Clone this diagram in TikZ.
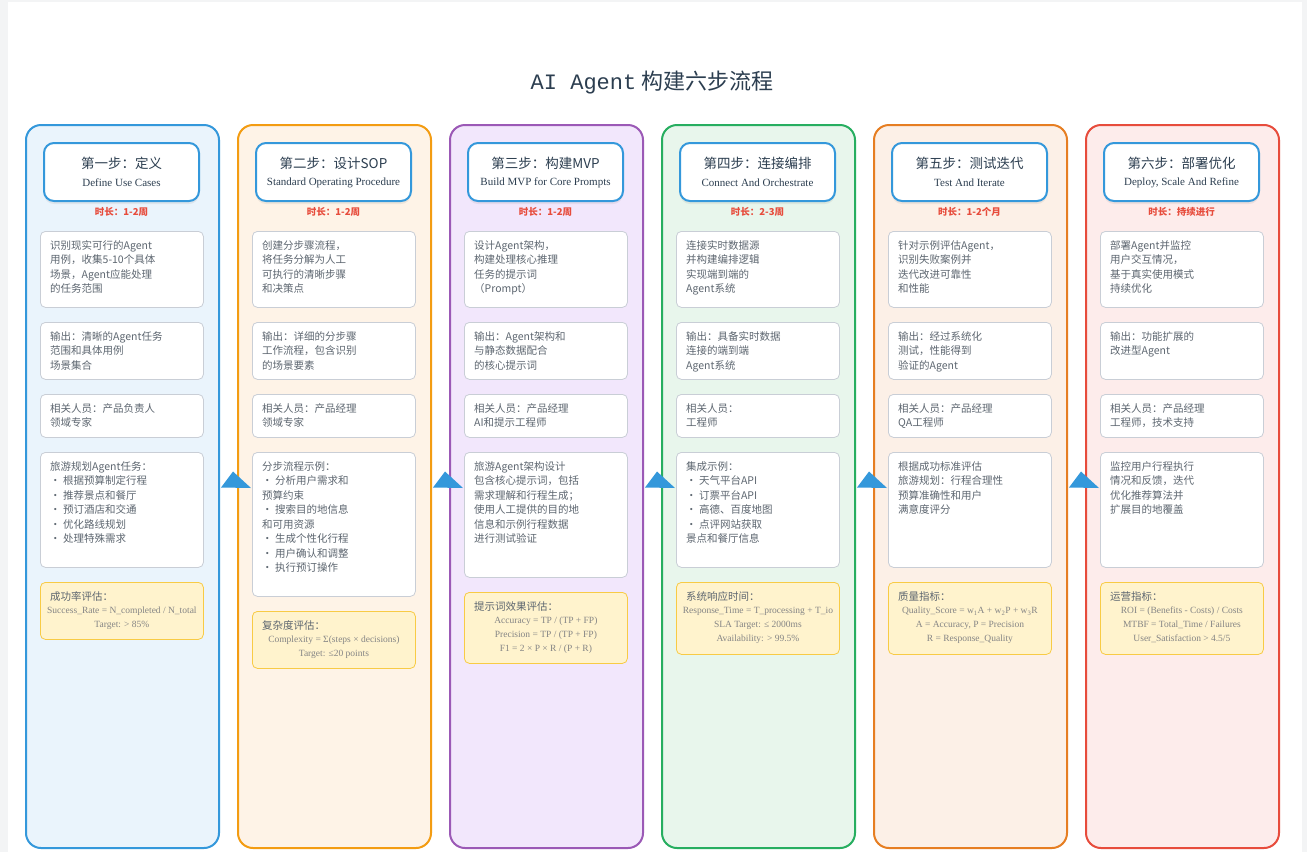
\documentclass[tikz,border=0pt]{standalone}
\usepackage{fontspec}
\setmainfont{Noto Sans CJK SC}
\newfontfamily\latinserif{Liberation Serif}
\newfontfamily\latinmono{Liberation Mono}
\usepackage{xcolor}
\usepackage{tikz}
\usetikzlibrary{calc}
\usetikzlibrary{shadows}

\definecolor{blueA}{HTML}{3498DB}
\definecolor{orangeA}{HTML}{F39C12}
\definecolor{purpleA}{HTML}{9B59B6}
\definecolor{greenA}{HTML}{27AE60}
\definecolor{orangeB}{HTML}{E67E22}
\definecolor{redA}{HTML}{E74C3C}
\definecolor{bgA}{HTML}{EAF4FC}
\definecolor{bgB}{HTML}{FEF3E7}
\definecolor{bgC}{HTML}{F2E7FC}
\definecolor{bgD}{HTML}{E8F6EC}
\definecolor{bgE}{HTML}{FCF0E7}
\definecolor{bgF}{HTML}{FDECEB}
\definecolor{ink}{HTML}{2C3E50}
\definecolor{bodytext}{HTML}{5D6670}
\definecolor{cardline}{HTML}{C9CED6}
\definecolor{yfill}{HTML}{FFF3CD}
\definecolor{yline}{HTML}{F8CB45}
\definecolor{formulatext}{HTML}{858585}
\definecolor{pagebg}{HTML}{F3F4F5}

\tikzset{
  col/.style={draw=#1, line width=2pt, rounded corners=15pt, anchor=north west,
    minimum width=193pt, minimum height=723pt, inner sep=0pt},
  head/.style={draw=blueA, line width=2pt, fill=white, rounded corners=10pt,
    minimum width=155pt, minimum height=58pt, inner sep=0pt,
    drop shadow={opacity=0.12, shadow xshift=0pt, shadow yshift=-3pt}},
  headtitle/.style={font=\fontsize{13.5}{16}\selectfont, text=ink, inner sep=0pt},
  headsub/.style={font=\latinserif\fontsize{11}{13}\selectfont, text=ink, inner sep=0pt},
  dur/.style={font=\bfseries\fontsize{9.5}{11}\selectfont, text=redA, inner sep=0pt},
  card/.style={draw=cardline, fill=white, line width=0.8pt, rounded corners=5pt,
    anchor=north west, minimum width=163pt, inner sep=0pt},
  metric/.style={draw=yline, fill=yfill},
  cardtext/.style={anchor=north west, inner sep=0pt, align=left,
    font=\fontsize{10.5}{14.5}\selectfont, text=bodytext},
  formula/.style={anchor=north, inner sep=0pt, align=center,
    font=\latinserif\fontsize{9.5}{14}\selectfont, text=formulatext},
  arrowtri/.style={fill=blueA}
}

% card with text, top-left at (x,y)
\newcommand{\infocard}[5]{%
  \node[card, minimum height=#4pt] (#1) at (#2,#3) {};
  \node[cardtext] (#1t) at ($(#1.north west)+(10,9)$) {#5};}

\begin{document}
\begin{tikzpicture}[x=1pt, y=-1pt]
\useasboundingbox (0,0) rectangle (1307,852);
\fill[pagebg] (0,0) rectangle (1307,852);
\fill[white] (8,2) rectangle (1302,852);

\node[font=\fontsize{22}{26}\selectfont, text=ink] (title) at (652,83) {{\latinmono AI Agent} 构建六步流程};

%%% colonnes

\node[col=blueA, fill=bgA] (col1) at (25,124) {};
\node[col=orangeA, fill=bgB] (col2) at (237,124) {};
\node[col=purpleA, fill=bgC] (col3) at (449,124) {};
\node[col=greenA, fill=bgD] (col4) at (661,124) {};
\node[col=orangeB, fill=bgE] (col5) at (873,124) {};
\node[col=redA, fill=bgF] (col6) at (1085,124) {};

%%% fleches

\fill[arrowtri] ($(col1.east)+(1,1)$) -- ($(col1.east)+(13,-15)$) -- ($(col1.east)+(31,1.5)$) -- cycle;
\fill[arrowtri] ($(col2.east)+(1,1)$) -- ($(col2.east)+(13,-15)$) -- ($(col2.east)+(31,1.5)$) -- cycle;
\fill[arrowtri] ($(col3.east)+(1,1)$) -- ($(col3.east)+(13,-15)$) -- ($(col3.east)+(31,1.5)$) -- cycle;
\fill[arrowtri] ($(col4.east)+(1,1)$) -- ($(col4.east)+(13,-15)$) -- ($(col4.east)+(31,1.5)$) -- cycle;
\fill[arrowtri] ($(col5.east)+(1,1)$) -- ($(col5.east)+(13,-15)$) -- ($(col5.east)+(31,1.5)$) -- cycle;

% step 1
\node[head] (h1) at (121.5,172) {};
\node[headtitle] (h1a) at ($(h1)+(0,-9)$) {第一步：定义};
\node[headsub] (h1b) at ($(h1)+(0,11)$) {Define Use Cases};
\node[dur] (d1) at (121.5,212) {时长：1-2周};
\infocard{a1}{40}{231}{76}{识别现实可行的Agent\\用例，收集5-10个具体\\场景，Agent应能处理\\的任务范围}
\infocard{b1}{40}{322}{57}{输出：清晰的Agent任务\\范围和具体用例\\场景集合}
\infocard{c1}{40}{394}{43}{相关人员：产品负责人\\领域专家}
\infocard{e1}{40}{452}{115}{旅游规划Agent任务：\\• 根据预算制定行程\\• 推荐景点和餐厅\\• 预订酒店和交通\\• 优化路线规划\\• 处理特殊需求}
\node[card, metric, minimum height=57pt] (y1) at (40,582) {};
\node[cardtext] (y1t) at ($(y1.north west)+(10,9)$) {成功率评估：};
\node[formula] (y1f) at ($(y1.north)+(0,25)$) {Success\_Rate = N\_completed / N\_total\\Target: > 85\%};

% step 2
\node[head] (h2) at (333.5,172) {};
\node[headtitle] (h2a) at ($(h2)+(0,-9)$) {第二步：设计SOP};
\node[headsub] (h2b) at ($(h2)+(0,11)$) {Standard Operating Procedure};
\node[dur] (d2) at (333.5,212) {时长：1-2周};
\infocard{a2}{252}{231}{76}{创建分步骤流程，\\将任务分解为人工\\可执行的清晰步骤\\和决策点}
\infocard{b2}{252}{322}{57}{输出：详细的分步骤\\工作流程，包含识别\\的场景要素}
\infocard{c2}{252}{394}{43}{相关人员：产品经理\\领域专家}
\infocard{e2}{252}{452}{144}{分步流程示例：\\• 分析用户需求和\\预算约束\\• 搜索目的地信息\\和可用资源\\• 生成个性化行程\\• 用户确认和调整\\• 执行预订操作}
\node[card, metric, minimum height=57pt] (y2) at (252,611) {};
\node[cardtext] (y2t) at ($(y2.north west)+(10,9)$) {复杂度评估：};
\node[formula] (y2f) at ($(y2.north)+(0,25)$) {Complexity = Σ(steps × decisions)\\Target: ≤20 points};

% step 3
\node[head] (h3) at (545.5,172) {};
\node[headtitle] (h3a) at ($(h3)+(0,-9)$) {第三步：构建MVP};
\node[headsub] (h3b) at ($(h3)+(0,11)$) {Build MVP for Core Prompts};
\node[dur] (d3) at (545.5,212) {时长：1-2周};
\infocard{a3}{464}{231}{76}{设计Agent架构，\\构建处理核心推理\\任务的提示词\\（Prompt）}
\infocard{b3}{464}{322}{57}{输出：Agent架构和\\与静态数据配合\\的核心提示词}
\infocard{c3}{464}{394}{43}{相关人员：产品经理\\AI和提示工程师}
\infocard{e3}{464}{452}{125}{旅游Agent架构设计\\包含核心提示词，包括\\需求理解和行程生成；\\使用人工提供的目的地\\信息和示例行程数据\\进行测试验证}
\node[card, metric, minimum height=71pt] (y3) at (464,592) {};
\node[cardtext] (y3t) at ($(y3.north west)+(10,9)$) {提示词效果评估：};
\node[formula] (y3f) at ($(y3.north)+(0,25)$) {Accuracy = TP / (TP + FP)\\Precision = TP / (TP + FP)\\F1 = 2 × P × R / (P + R)};

% step 4
\node[head] (h4) at (757.5,172) {};
\node[headtitle] (h4a) at ($(h4)+(0,-9)$) {第四步：连接编排};
\node[headsub] (h4b) at ($(h4)+(0,11)$) {Connect And Orchestrate};
\node[dur] (d4) at (757.5,212) {时长：2-3周};
\infocard{a4}{676}{231}{76}{连接实时数据源\\并构建编排逻辑\\实现端到端的\\Agent系统}
\infocard{b4}{676}{322}{57}{输出：具备实时数据\\连接的端到端\\Agent系统}
\infocard{c4}{676}{394}{43}{相关人员：\\工程师}
\infocard{e4}{676}{452}{115}{集成示例：\\• 天气平台API\\• 订票平台API\\• 高德、百度地图\\• 点评网站获取\\景点和餐厅信息}
\node[card, metric, minimum height=72pt] (y4) at (676,582) {};
\node[cardtext] (y4t) at ($(y4.north west)+(10,9)$) {系统响应时间：};
\node[formula] (y4f) at ($(y4.north)+(0,25)$) {Response\_Time = T\_processing + T\_io\\SLA Target: ≤ 2000ms\\Availability: > 99.5\%};

% step 5
\node[head] (h5) at (969.5,172) {};
\node[headtitle] (h5a) at ($(h5)+(0,-9)$) {第五步：测试迭代};
\node[headsub] (h5b) at ($(h5)+(0,11)$) {Test And Iterate};
\node[dur] (d5) at (969.5,212) {时长：1-2个月};
\infocard{a5}{888}{231}{76}{针对示例评估Agent，\\识别失败案例并\\迭代改进可靠性\\和性能}
\infocard{b5}{888}{322}{57}{输出：经过系统化\\测试，性能得到\\验证的Agent}
\infocard{c5}{888}{394}{43}{相关人员：产品经理\\QA工程师}
\infocard{e5}{888}{452}{115}{根据成功标准评估\\旅游规划：行程合理性\\预算准确性和用户\\满意度评分}
\node[card, metric, minimum height=72pt] (y5) at (888,582) {};
\node[cardtext] (y5t) at ($(y5.north west)+(10,9)$) {质量指标：};
\node[formula] (y5f) at ($(y5.north)+(0,25)$) {Quality\_Score = w\textsubscript{1}A + w\textsubscript{2}P + w\textsubscript{3}R\\A = Accuracy, P = Precision\\R = Response\_Quality};

% step 6
\node[head] (h6) at (1181.5,172) {};
\node[headtitle] (h6a) at ($(h6)+(0,-9)$) {第六步：部署优化};
\node[headsub] (h6b) at ($(h6)+(0,11)$) {Deploy, Scale And Refine};
\node[dur] (d6) at (1181.5,212) {时长：持续进行};
\infocard{a6}{1100}{231}{76}{部署Agent并监控\\用户交互情况，\\基于真实使用模式\\持续优化}
\infocard{b6}{1100}{322}{57}{输出：功能扩展的\\改进型Agent}
\infocard{c6}{1100}{394}{43}{相关人员：产品经理\\工程师，技术支持}
\infocard{e6}{1100}{452}{115}{监控用户行程执行\\情况和反馈，迭代\\优化推荐算法并\\扩展目的地覆盖}
\node[card, metric, minimum height=72pt] (y6) at (1100,582) {};
\node[cardtext] (y6t) at ($(y6.north west)+(10,9)$) {运营指标：};
\node[formula] (y6f) at ($(y6.north)+(0,25)$) {ROI = (Benefits - Costs) / Costs\\MTBF = Total\_Time / Failures\\User\_Satisfaction > 4.5/5};
\end{tikzpicture}
\end{document}
